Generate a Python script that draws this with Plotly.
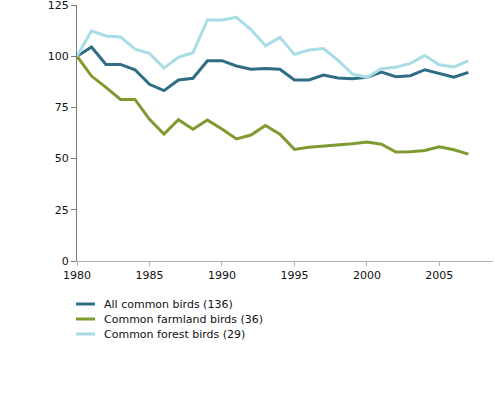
import plotly.graph_objects as go

years = list(range(1980, 2008))

all_common = [100, 104.5, 96, 96, 93.4, 86.3, 83.2, 88.4, 89.2, 97.8, 97.8, 95.2, 93.6, 94,
              93.6, 88.4, 88.4, 90.8, 89.4, 89, 89.7, 92.3, 90, 90.5, 93.4, 91.6, 89.7, 92.1]
farmland = [100, 90.3, 84.8, 78.9, 78.9, 69.2, 62, 69, 64.3, 68.8, 64.5, 59.6, 61.5, 66.2,
            61.9, 54.5, 55.5, 56, 56.8, 57.3, 58.1, 57, 53.2, 53.4, 54, 55.8, 54.3, 52.2]
forest = [100, 112.4, 109.9, 109.4, 103.4, 101.4, 94.2, 99.5, 101.7, 117.7, 117.7, 119, 113, 105.1,
          109.2, 100.9, 103, 103.7, 98.1, 91.3, 89.7, 93.9, 94.6, 96.5, 100.4, 95.8, 94.7, 97.8]

names = ["All common birds (136)", "Common farmland birds (36)", "Common forest birds (29)"]
colors = ["#2f6d84", "#7e9a30", "#a9dde6"]

W, H = 494, 398
ML, MR, MT, MB = 77, 1, 5, 137
pw, ph = W - ML - MR, H - MT - MB

fig = go.Figure()
for vals, name, col in zip([all_common, farmland, forest], names, colors):
    fig.add_trace(go.Scatter(x=years, y=vals, mode="lines", name=name,
                             line=dict(color=col, width=3)))

# legend drawn below the plot (pixel offsets converted to paper coordinates)
shapes, annotations = [], []
for i, (name, col) in enumerate(zip(names, colors)):
    ypx = 304 + 15 * i
    yp = (H - MB - ypx) / ph
    shapes.append(dict(type="line", xref="paper", yref="paper",
                       x0=(76 - ML) / pw, x1=(95 - ML) / pw, y0=yp, y1=yp,
                       line=dict(color=col, width=3)))
    annotations.append(dict(xref="paper", yref="paper", x=(102 - ML) / pw, y=yp,
                            xanchor="left", yanchor="middle", text=name, showarrow=False,
                            font=dict(size=11, color="#111")))

fig.update_layout(
    width=W, height=H,
    margin=dict(l=ML, r=MR, t=MT, b=MB, autoexpand=False),
    plot_bgcolor="white", paper_bgcolor="white",
    font=dict(family="Verdana, DejaVu Sans, sans-serif", size=11, color="#111"),
    showlegend=False,
    shapes=shapes, annotations=annotations,
)
fig.update_xaxes(range=[1980, 2008.7], tickmode="array", tickvals=[1980, 1985, 1990, 1995, 2000, 2005],
                 showline=True, linecolor="#b0b0b0", linewidth=1, showgrid=False, zeroline=False,
                 ticks="outside", ticklen=4, tickcolor="#b0b0b0", automargin=False,
                 ticklabeloverflow="allow")
fig.update_yaxes(range=[0, 125], tickvals=[0, 25, 50, 75, 100, 125],
                 showline=True, linecolor="#7a7a7a", linewidth=1, showgrid=False, zeroline=False,
                 ticks="outside", ticklen=5, tickcolor="#7a7a7a", automargin=False,
                 ticklabeloverflow="allow")

fig.write_html("out.html", config={"displayModeBar": False},
               post_script="document.body.style.margin='0';")
